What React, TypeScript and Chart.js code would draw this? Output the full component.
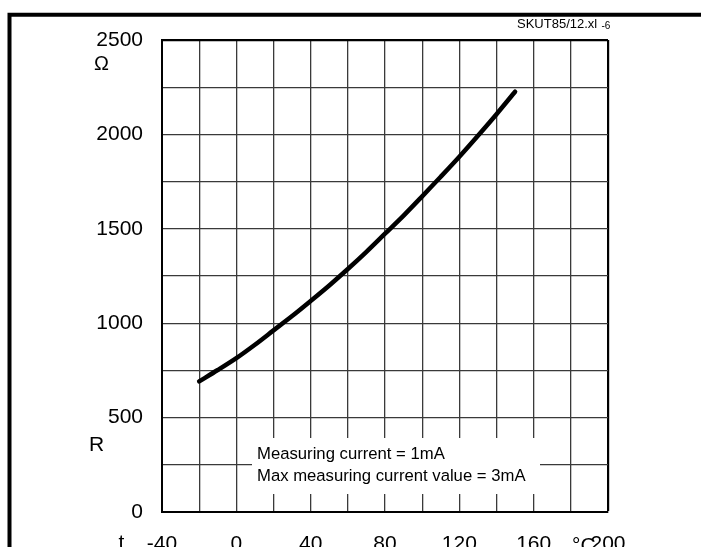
import React, { useEffect, useRef } from 'react';
import { Chart, registerables } from 'chart.js';

Chart.register(...registerables);

// Temperature (°C) and resistance (Ω)
const temperatures = [-20, -10, 0, 10, 20, 30, 40, 50, 60, 70, 80, 90, 100, 110, 120, 130, 140, 150];
const resistance = [692, 752, 815, 886, 962, 1038, 1118, 1200, 1287, 1378, 1474, 1570, 1672, 1776, 1882, 1993, 2107, 2226];

const xTickLabels = [-40, 0, 40, 80, 120, 160, 200];
const yTickLabels = [0, 500, 1000, 1500, 2000, 2500];
const noteLines = ['Measuring current = 1mA', 'Max measuring current value = 3mA'];
const docRef = 'SKUT85/12.xl';
const docSuffix = '-6';
const yUnit = 'Ω';
const yName = 'R';
const xName = 't';
const xUnit = '°C';

const FONT = 'Arial, "Liberation Sans", Helvetica, sans-serif';

const decor = {
  id: 'decor',
  beforeDatasetsDraw(chart: any) {
    const { ctx, chartArea: a } = chart;
    ctx.save();
    ctx.fillStyle = '#ffffff';
    ctx.fillRect(a.left + 90, a.bottom - 74, 288, 56);
    ctx.restore();
  },
  afterDraw(chart: any) {
    const { ctx, chartArea: a } = chart;
    ctx.save();
    ctx.fillStyle = '#000';
    // note text
    ctx.font = `16.7px ${FONT}`;
    ctx.textAlign = 'left';
    ctx.textBaseline = 'alphabetic';
    ctx.fillText(noteLines[0], a.left + 95, a.bottom - 53);
    ctx.fillText(noteLines[1], a.left + 95, a.bottom - 31);
    // axis symbols
    ctx.font = `20px ${FONT}`;
    ctx.textAlign = 'center';
    ctx.textBaseline = 'middle';
    ctx.fillText(yUnit, a.left - 60.5, a.top + 24.5);
    ctx.font = `21px ${FONT}`;
    ctx.fillText(yName, a.left - 65.5, a.bottom - 67);
    ctx.textBaseline = 'alphabetic';
    ctx.fillText(xName, a.left - 40.5, 549);
    ctx.textAlign = 'left';
    ctx.fillText(xUnit, a.right - 36, 552);
    // document reference
    ctx.font = `13px ${FONT}`;
    ctx.fillText(docRef, 517, 27.5);
    ctx.font = `10px ${FONT}`;
    ctx.fillText(docSuffix, 601.5, 28.5);
    // frame
    ctx.strokeStyle = '#000';
    ctx.lineWidth = 4;
    ctx.beginPath();
    ctx.moveTo(9.5, 560);
    ctx.lineTo(9.5, 14.7);
    ctx.lineTo(720, 14.7);
    ctx.stroke();
    ctx.restore();
  },
};

export default function App() {
  const canvasRef = useRef<HTMLCanvasElement | null>(null);

  useEffect(() => {
    const canvas = canvasRef.current;
    if (!canvas) return;
    const chart = new Chart(canvas, {
      type: 'line',
      data: {
        datasets: [
          {
            data: temperatures.map((t, i) => ({ x: t, y: resistance[i] })),
            borderColor: '#000',
            borderWidth: 4.5,
            borderCapStyle: 'round',
            pointRadius: 0,
            tension: 0.3,
            fill: false,
          },
        ],
      },
      options: {
        responsive: false,
        animation: false,
        events: [],
        layout: { padding: { left: 0, top: 40, right: 93, bottom: 0 } },
        plugins: { legend: { display: false }, tooltip: { enabled: false } },
        scales: {
          x: {
            type: 'linear',
            min: -40,
            max: 200,
            afterFit: (s: any) => {
              s.height = 35;
            },
            border: { display: true, color: '#000', width: 2 },
            grid: {
              drawTicks: false,
              color: (c: any) => (c.tick && c.tick.value === 200 ? '#000' : '#3a3a3a'),
              lineWidth: (c: any) => (c.tick && c.tick.value === 200 ? 2.2 : 1.3),
            },
            ticks: {
              stepSize: 20,
              autoSkip: false,
              maxRotation: 0,
              padding: 20,
              color: '#000',
              font: { family: FONT, size: 21 },
              callback: (v: any) => (xTickLabels.includes(Number(v)) ? String(v) : ''),
            },
          },
          y: {
            type: 'linear',
            min: 0,
            max: 2500,
            afterFit: (s: any) => {
              s.width = 162;
            },
            border: { display: true, color: '#000', width: 2 },
            grid: {
              drawTicks: false,
              color: (c: any) => (c.tick && c.tick.value === 2500 ? '#000' : '#3a3a3a'),
              lineWidth: (c: any) => (c.tick && c.tick.value === 2500 ? 2.2 : 1.3),
            },
            ticks: {
              stepSize: 250,
              autoSkip: false,
              padding: 19,
              color: '#000',
              font: { family: FONT, size: 21 },
              callback: (v: any) => (yTickLabels.includes(Number(v)) ? String(v) : ''),
            },
          },
        },
      },
      plugins: [decor],
    } as any);
    return () => chart.destroy();
  }, []);

  return (
    <div style={{ position: 'absolute', left: 0, top: 0, width: 701, height: 547, background: '#fff', overflow: 'hidden' }}>
      <canvas ref={canvasRef} width={701} height={547} style={{ display: 'block' }} />
    </div>
  );
}
